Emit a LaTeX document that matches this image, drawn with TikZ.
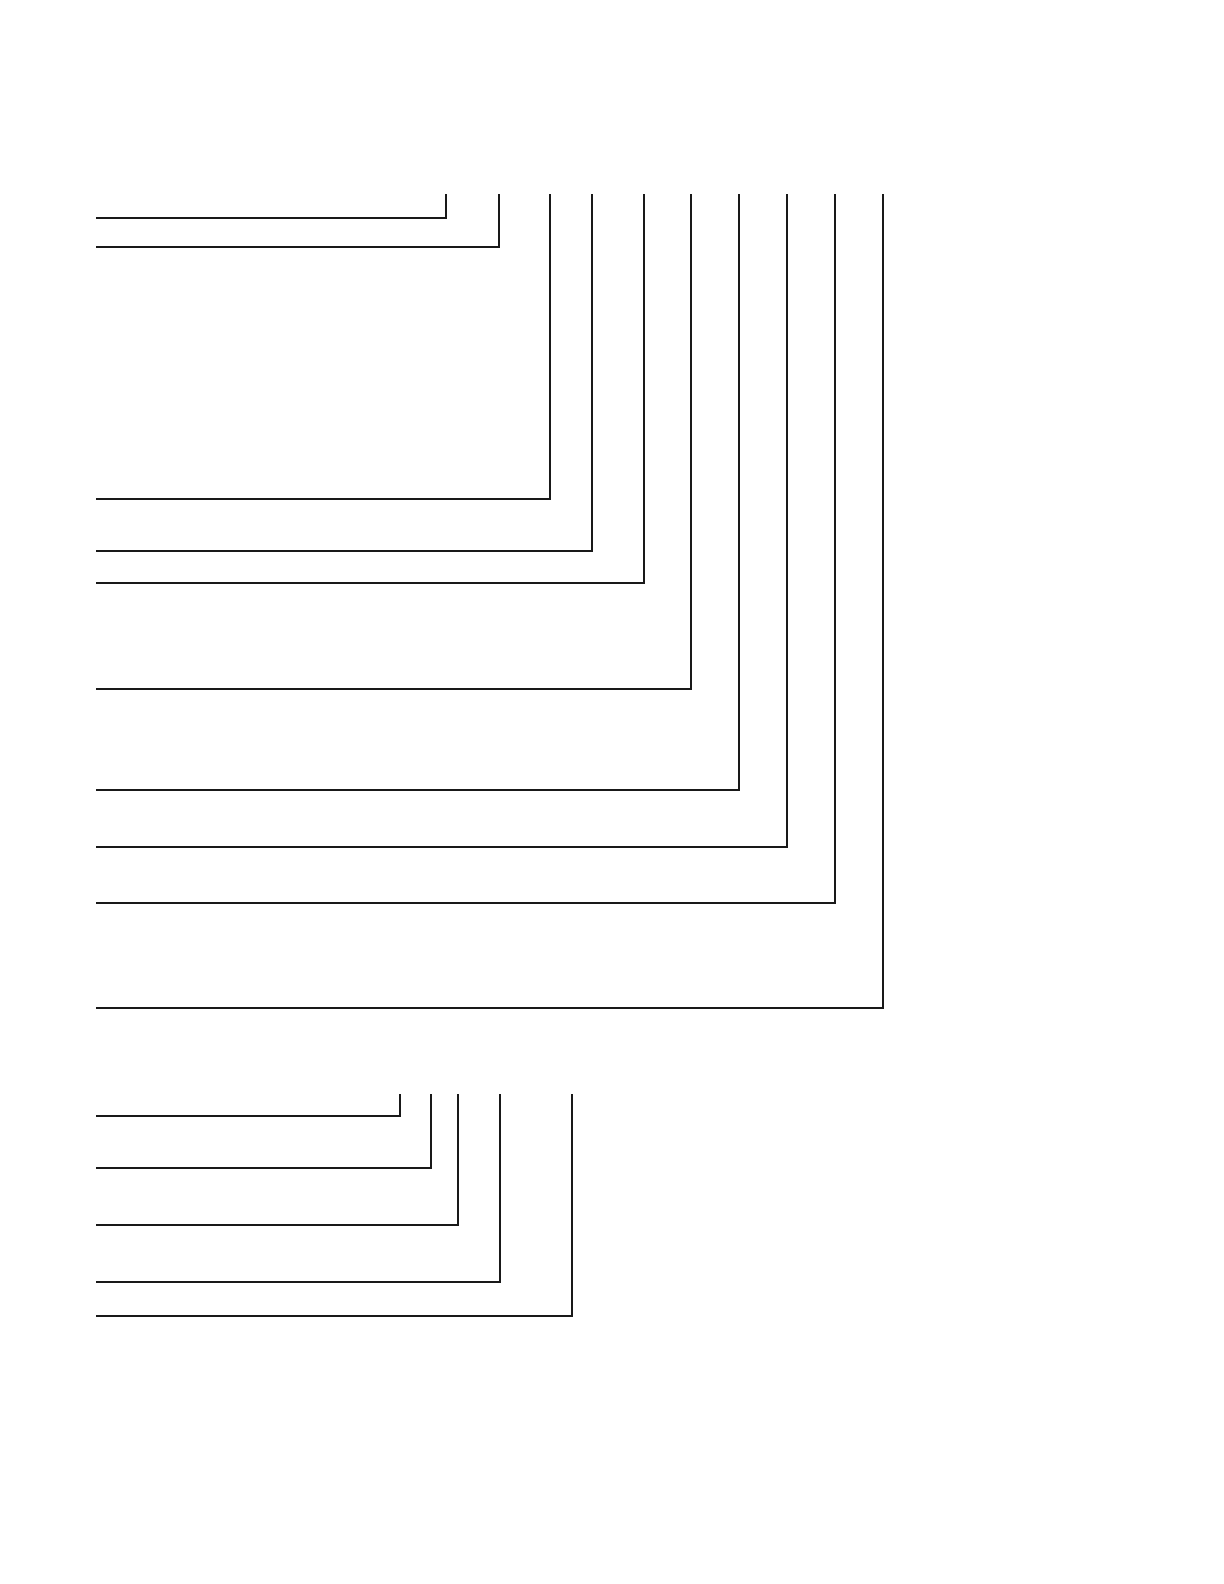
\documentclass[tikz,border=0pt]{standalone}
\usepackage{tikz}

\begin{document}
\begin{tikzpicture}[x=0.5pt,y=-0.5pt,line width=1pt,color=black!90]
	\useasboundingbox (0,0) rectangle (1224,1584);
	\def\left{96}
	\def\topA{194}
	\def\topB{1094}

	% upper group
	\foreach \x/\y in {446/218,499/247,549.5/499,592/550.5,643.5/583,691/688.5,738.5/790,787/846.5,834.5/903,883/1008}{
		\coordinate (s) at (\left,\y);
		\coordinate (c) at (\x,\y);
		\coordinate (e) at (\x,\topA);
		\draw (s) -- (c) -- (e);
	}

	% lower group
	\foreach \x/\y in {400/1116,430.5/1167.5,457.5/1225,499.5/1281.5,571.5/1316}{
		\coordinate (s) at (\left,\y);
		\coordinate (c) at (\x,\y);
		\coordinate (e) at (\x,\topB);
		\draw (s) -- (c) -- (e);
	}
\end{tikzpicture}
\end{document}
